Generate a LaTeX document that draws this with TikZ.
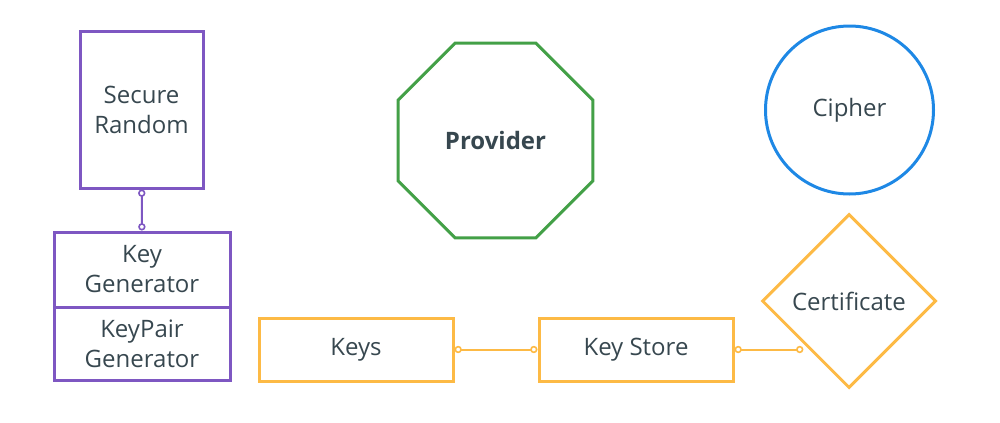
\documentclass[tikz,border=0pt]{standalone}
\usepackage{fontspec}
\setmainfont{Open Sans}
\usetikzlibrary{shapes.geometric,arrows.meta}
\definecolor{ink}{HTML}{37474F}
\definecolor{lilac}{HTML}{7E57C2}
\definecolor{leaf}{HTML}{43A047}
\definecolor{sky}{HTML}{1E88E5}
\definecolor{amber}{HTML}{FDBA45}
\tikzset{every node/.style={font=\fontsize{18}{22.5}\selectfont, text=ink, align=center, inner sep=0pt, line width=2.25pt},
         box/.style={draw, rectangle},
         link/.style={line width=1.5pt, {Circle[open,fill=white,length=5.5pt,line width=1.2pt]}-{Circle[open,fill=white,length=5.5pt,line width=1.2pt]}}}

\begin{document}
\begin{tikzpicture}[x=0.75pt,y=-0.75pt]
  \useasboundingbox (0,0) rectangle (1000,422);
  % left column
  \node[box, draw=lilac, minimum width=92.25pt, minimum height=117.75pt] (sr)  at (141.5,109.5) {Secure\\Random};
  \node[box, draw=lilac, minimum width=132pt, minimum height=56.25pt]    (kg)  at (142,269.5) {Key\\Generator};
  \node[box, draw=lilac, minimum width=132pt, minimum height=54.75pt]    (kpg) at (142,343.5) {KeyPair\\Generator};
  \draw[link, lilac] (sr) -- (kg);
  % top row
  \node[draw=leaf, regular polygon, regular polygon sides=8, minimum size=158.25pt, font=\fontsize{18}{22.5}\selectfont\bfseries] (prov) at (495.5,140.5) {Provider};
  \node[draw=sky, circle, minimum size=126pt] (ciph) at (849.5,110) {Cipher};
  % bottom row
  \node[draw=amber, diamond, minimum width=130.5pt, minimum height=130.5pt] (cert) at (849,301) {Certificate};
  \node[box, draw=amber, minimum width=145.5pt, minimum height=47.25pt] (keys) at (356,349.5) {Keys};
  \node[box, draw=amber, minimum width=145.5pt, minimum height=47.25pt] (ks)   at (636,349.5) {Key Store};
  \draw[link, amber] (keys) -- (ks);
  \draw[link, amber, shorten >=4.5pt] (ks.east) -- (ks.east -| cert.231);
\end{tikzpicture}
\end{document}
